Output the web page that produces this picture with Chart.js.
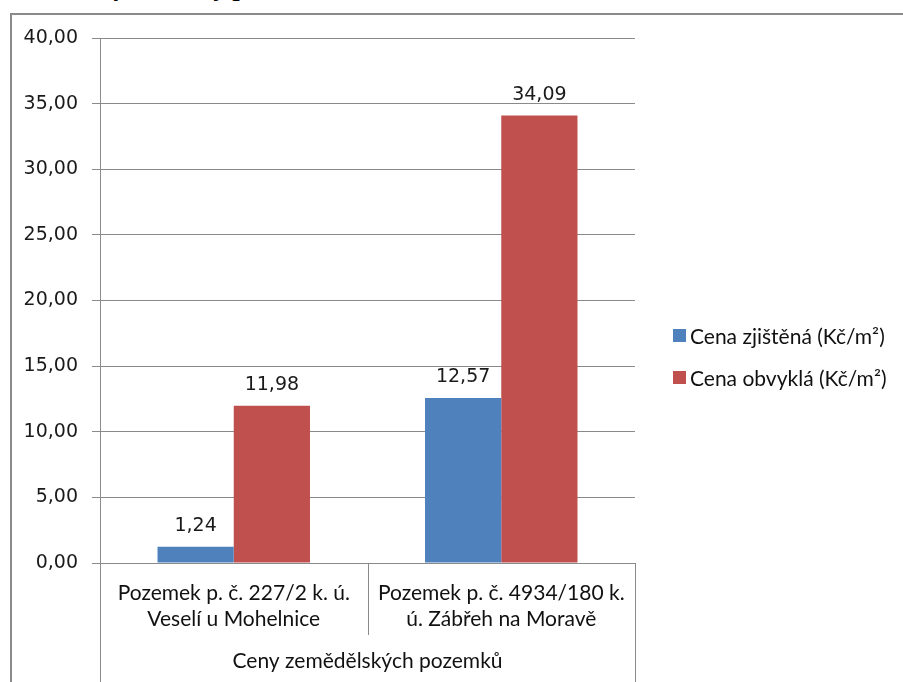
<!DOCTYPE html>
<html>
<head>
<meta charset="utf-8">
<script src="https://cdn.jsdelivr.net/npm/chart.js@4"></script>
<style>
  body { margin: 0; background: #fff; width: 903px; height: 682px; overflow: hidden; position: relative; }
  #frame { position: absolute; left: 10px; top: 13px; width: 960px; height: 720px;
           border-left: 2px solid #8a8a8a; border-top: 2px solid #8a8a8a; }
  #caption { position: absolute; left: 72px; top: -27px; font: italic bold 26px "Liberation Serif", serif; color: #000; }
  #chartBox { position: absolute; left: 0; top: 0; width: 903px; height: 682px; }
  #legend { position: absolute; left: 673px; top: 314px; font: 21px Lato, sans-serif; color: #111; }
  #legend div { height: 42px; display: flex; align-items: center; }
  #legend span.sw { display: inline-block; width: 13px; height: 13px; margin-right: 4px; }
</style>
</head>
<body>
<div id="caption">Graf č. 1 Ceny pozemků</div>
<div id="frame"></div>
<div id="chartBox"><canvas id="ceny" width="903" height="682"></canvas></div>
<div id="legend"></div>
<script>
// categories and values
const categories = [
    ['Pozemek p. č. 227/2 k. ú.', 'Veselí u Mohelnice'],
    ['Pozemek p. č. 4934/180 k.', 'ú. Zábřeh na Moravě']
];
const seriesNames = ['Cena zjištěná (Kč/m²)', 'Cena obvyklá (Kč/m²)'];
const cenaZjistena = [1.24, 12.57];
const cenaObvykla = [11.98, 34.09];
const groupTitle = 'Ceny zemědělských pozemků';
const colors = ['#4F81BD', '#C0504D'];

const fmt = v => v.toFixed(2).replace('.', ',');

// value labels over bars
const valueLabels = {
    id: 'valueLabels',
    afterDatasetsDraw(chart) {
        const ctx = chart.ctx;
        ctx.save();
        ctx.font = '19px "DejaVu Sans", sans-serif';
        ctx.fillStyle = '#1a1a1a';
        ctx.textAlign = 'center';
        ctx.textBaseline = 'bottom';
        chart.data.datasets.forEach((ds, i) => {
            chart.getDatasetMeta(i).data.forEach((bar, j) => {
                ctx.fillText(fmt(ds.data[j]), bar.x, bar.y - 11);
            });
        });
        ctx.restore();
    }
};

// category divider lines under the axis
const categoryLines = {
    id: 'categoryLines',
    afterDraw(chart) {
        const x = chart.scales.x;
        const ctx = chart.ctx;
        const top = chart.chartArea.bottom;
        const step = x.getPixelForValue(1) - x.getPixelForValue(0);
        ctx.save();
        ctx.strokeStyle = '#8a8a8a';
        ctx.lineWidth = 1;
        ctx.beginPath();
        ctx.moveTo(x.left + 0.5, top); ctx.lineTo(x.left + 0.5, chart.height);
        ctx.moveTo(x.right + 0.5, top); ctx.lineTo(x.right + 0.5, chart.height);
        for (let i = 1; i < categories.length; i++) {
            const px = Math.round(x.getPixelForValue(i) - step / 2) + 0.5;
            ctx.moveTo(px, top); ctx.lineTo(px, top + 72);
        }
        ctx.stroke();
        ctx.restore();
    }
};

const ctx = document.getElementById('ceny').getContext('2d');
const cenyChart = new Chart(ctx, {
    type: 'bar',
    data: {
        labels: categories,
        datasets: [
            { label: seriesNames[0], data: cenaZjistena, backgroundColor: colors[0] },
            { label: seriesNames[1], data: cenaObvykla, backgroundColor: colors[1] }
        ]
    },
    options: {
        responsive: false,
        animation: false,
        devicePixelRatio: 1,
        layout: { padding: { left: 0, top: 38, right: 268, bottom: 0 } },
        datasets: { bar: { categoryPercentage: 0.57, barPercentage: 1 } },
        scales: {
            x: {
                grid: { display: false },
                border: { display: false },
                ticks: {
                    color: '#111',
                    padding: 9,
                    maxRotation: 0,
                    font: { family: 'Lato, sans-serif', size: 21, lineHeight: 1.25 }
                },
                title: {
                    display: true,
                    text: groupTitle,
                    color: '#111',
                    padding: { top: 0, bottom: 8 },
                    font: { family: 'Lato, sans-serif', size: 21 }
                },
                afterFit(scale) { scale.height = 119; }
            },
            y: {
                min: 0,
                max: 40,
                ticks: {
                    stepSize: 5,
                    padding: 14,
                    color: '#1a1a1a',
                    font: { family: '"DejaVu Sans", sans-serif', size: 19 },
                    callback: v => fmt(v)
                },
                grid: { color: '#8a8a8a', tickLength: 8, tickColor: '#8a8a8a' },
                border: { color: '#8a8a8a' },
                afterFit(scale) { scale.width = 100; }
            }
        },
        plugins: {
            legend: { display: false },
            tooltip: { enabled: false }
        }
    },
    plugins: [valueLabels, categoryLines]
});

// HTML legend built from the series
const legendEl = document.getElementById('legend');
seriesNames.forEach((name, i) => {
    const row = document.createElement('div');
    row.innerHTML = '<span class="sw" style="background:' + colors[i] + '"></span>' + name;
    legendEl.appendChild(row);
});
</script>
</body>
</html>
